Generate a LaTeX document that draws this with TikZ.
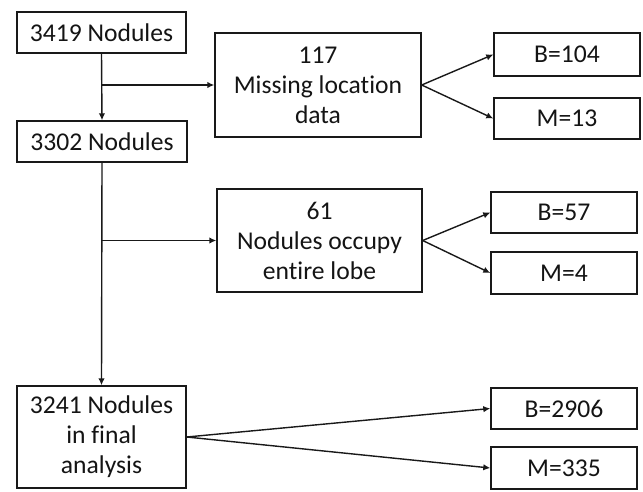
\documentclass[tikz,border=0pt]{standalone}
\usepackage{fontspec}
\setmainfont[Ligatures=CommonOff]{Carlito}
\usetikzlibrary{arrows.meta}
\begin{document}
\begin{tikzpicture}[x=1pt,y=-1pt,
  box/.style={draw=black!90, line width=1.4pt, rectangle, inner sep=0pt, align=center,
    font=\fontsize{25.6}{30}\selectfont, text=black!92},
  conn/.style={draw=black!90, line width=1.4pt},
  arr/.style={conn, -{Latex[length=7pt,width=6.5pt]}}]
\useasboundingbox (0,0) rectangle (643,491);
\node[box, minimum width=169pt, minimum height=41pt] (a) at (101.5,32.5) {3419 Nodules};
\node[box, minimum width=170pt, minimum height=41pt] (b) at (102,141.5) {3302 Nodules};
\node[box, minimum width=206pt, minimum height=104pt] (c) at (318,85) {117\\Missing location\\data};
\node[box, minimum width=146pt, minimum height=43pt] (c1) at (567,54.5) {B=104};
\node[box, minimum width=146pt, minimum height=41pt] (c2) at (567,118.5) {M=13};
\node[box, minimum width=205pt, minimum height=103pt] (d) at (319.5,240.5) {61\\Nodules occupy\\entire lobe};
\node[box, minimum width=146pt, minimum height=41pt] (d1) at (564,212.5) {B=57};
\node[box, minimum width=146pt, minimum height=42pt] (d2) at (564,273) {M=4};
\node[box, minimum width=169pt, minimum height=102pt] (e) at (101.5,437) {3241 Nodules\\in final\\analysis};
\node[box, minimum width=146pt, minimum height=41pt] (e1) at (564,408.5) {B=2906};
\node[box, minimum width=146pt, minimum height=42pt] (e2) at (564,468) {M=335};
\coordinate (j1) at (a.south |- c.west);
\coordinate (j2) at (b.south |- d.west);
\draw[arr] (a.south) -- (b.north);
\draw[arr] (j1) -- (c.west);
\draw[arr] (b.south) -- (e.north);
\draw[arr] (j2) -- (d.west);
\draw[arr] (c.east) -- (c1.west);
\draw[arr] (c.east) -- (c2.west);
\draw[arr] (d.east) -- (d1.west);
\draw[arr] (d.east) -- (d2.west);
\draw[arr] (e.east) -- (e1.west);
\draw[arr] (e.east) -- (e2.west);
\end{tikzpicture}
\end{document}
